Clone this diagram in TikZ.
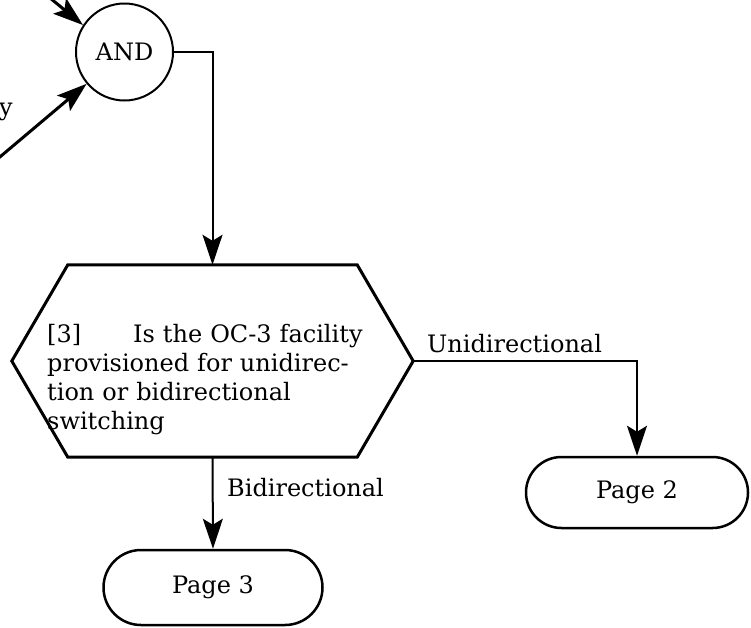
\documentclass[tikz,border=0pt]{standalone}
\usepackage{fontspec}
\setmainfont{DejaVu Serif}
\usetikzlibrary{arrows.meta,calc}
\begin{document}
\begin{tikzpicture}[x=1pt,y=-1pt,
  every node/.style={font=\fontsize{24}{29}\selectfont, inner sep=0pt},
  gate/.style={circle, draw, line width=2pt, minimum size=97pt},
  hexframe/.style={rectangle, minimum width=401pt, minimum height=192pt},
  hexline/.style={line width=3pt, line join=miter},
  terminal/.style={rectangle, draw, line width=2.5pt, minimum width=#1},
  flow/.style={line width=2pt, -{Stealth[length=30pt,width=20pt,inset=6pt]}},
  feed/.style={line width=3pt, -{Stealth[length=30pt,width=20pt,inset=6pt]}},
  lbl/.style={anchor=base west}
]
\useasboundingbox (0,0) rectangle (751,627);
\clip (0,0) rectangle (751,627);

% AND gate and its two inputs
\node[gate] (and) at (124.5,52) {AND};
\coordinate (in1) at (22,-25);
\coordinate (in2) at (-12,167);
\draw[feed] (in1) -- (and.147.6);
\draw[feed] (in2) -- (and.220);
\node[anchor=base east] (ylbl) at (13,115) {y};

% decision hexagon
\node[hexframe] (q) at (212.5,361) {};
\draw[hexline] (q.west) -- ($(q.north west)+(56,0)$) -- ($(q.north east)+(-56,0)$)
  -- (q.east) -- ($(q.south east)+(-56,0)$) -- ($(q.south west)+(56,0)$) -- cycle;
\node[anchor=base west, text width=360pt, align=left] (qt) at (47,342)
  {[3]\hspace{52pt}Is the OC-3 facility\\
   provisioned for unidirec-\\
   tion or bidirectional\\
   switching};

% terminals
\node[terminal=222pt, minimum height=71pt, rounded corners=35.5pt] (p2) at (637,492.5) {Page 2};
\node[terminal=219pt, minimum height=75pt, rounded corners=37.5pt] (p3) at (213,587.5) {Page 3};

% connectors
\draw[flow] (and.east) -| (q.north);
\draw[flow] (q.east) -| (p2.north);
\draw[flow] (q.south) -- (p3.north);
\node[lbl] (uni) at (427,352) {Unidirectional};
\node[lbl] (bi) at (227,496) {Bidirectional};
\end{tikzpicture}
\end{document}
